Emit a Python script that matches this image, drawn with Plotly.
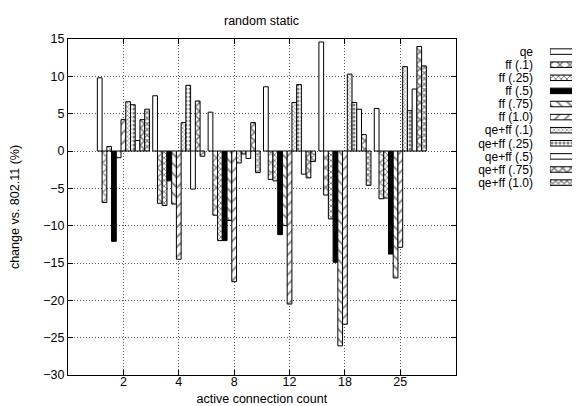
import plotly.graph_objects as go

categories = ["2", "4", "8", "12", "18", "25"]
series_names = ["qe", "ff (.1)", "ff (.25)", "ff (.5)", "ff (.75)", "ff (1.0)",
                "qe+ff (.1)", "qe+ff (.25)", "qe+ff (.5)", "qe+ff (.75)", "qe+ff (1.0)"]

qe = [9.8, 7.4, 5.2, 8.6, 14.6, 5.7]
ff_01 = [-6.9, -7.0, -8.6, -3.8, -5.9, -6.4]
ff_025 = [0.6, -7.3, -12.0, -4.0, -9.1, -6.3]
ff_05 = [-12.1, -4.0, -12.0, -11.2, -14.9, -13.8]
ff_075 = [-0.9, -7.1, -9.3, -10.0, -26.1, -17.0]
ff_10 = [4.2, -14.5, -17.5, -20.5, -23.2, -12.9]
qeff_01 = [6.6, 3.8, -1.6, 6.5, 10.3, 11.3]
qeff_025 = [6.2, 8.8, -0.4, 8.9, 6.5, 5.4]
qeff_05 = [1.4, -5.1, -1.0, -3.1, 5.6, 8.3]
qeff_075 = [4.2, 6.7, 3.8, -3.6, 2.2, 14.0]
qeff_10 = [5.6, -0.7, -2.9, -1.4, -4.6, 11.4]

yticks = [-30, -25, -20, -15, -10, -5, 0, 5, 10, 15]

series_values = [qe, ff_01, ff_025, ff_05, ff_075, ff_10,
                 qeff_01, qeff_025, qeff_05, qeff_075, qeff_10]

# fill styles (shape, size, solidity, solid colour)
styles = [
    ("", 8, 0.3, "white"),
    ("x", 7, 0.35, "white"),
    ("x", 4, 0.4, "white"),
    ("", 8, 0.3, "black"),
    ("\\", 7, 0.25, "white"),
    ("/", 7, 0.25, "white"),
    ("x", 3, 0.35, "white"),
    (".", 4, 0.45, "white"),
    ("", 8, 0.3, "white"),
    ("x", 6, 0.45, "white"),
    ("x", 4, 0.5, "white"),
]

FONT = "Liberation Sans, Arial, Helvetica, sans-serif"
FS = 12.5
xpos = list(range(1, len(categories) + 1))

fig = go.Figure()

for name, vals, (shape, size, sol, col) in zip(series_names, series_values, styles):
    marker = dict(color=col, line=dict(color="black", width=1))
    if shape:
        marker["pattern"] = dict(shape=shape, size=size, solidity=sol,
                                 fgcolor="black", bgcolor="white", fillmode="overlay")
    fig.add_trace(go.Bar(x=xpos, y=vals, name=name, marker=marker,
                         showlegend=False, xaxis="x", yaxis="y"))

# gnuplot-style key: label on the left, sample on the right
for i, (name, (shape, size, sol, col)) in enumerate(zip(series_names, styles)):
    marker = dict(color=col, line=dict(color="black", width=1))
    if shape:
        marker["pattern"] = dict(shape=shape, size=size, solidity=sol,
                                 fgcolor="black", bgcolor="white", fillmode="overlay")
    fig.add_trace(go.Bar(x=[1], y=[i], orientation="h", base=0, width=0.42, offset=-0.21,
                         marker=marker, showlegend=False, hoverinfo="skip",
                         xaxis="x2", yaxis="y2"))

W, H = 580, 406
ml, mr, mt, mb = 60, 2, 30.7, 39.3
pw = W - ml - mr
ph = H - mt - mb
main_right = (447.7 - ml) / pw

def ypaper(px):
    return (H - mb - px) / ph

GRID = dict(showgrid=True, gridcolor="#555", griddash="1px,2px", gridwidth=1)

fig.update_layout(
    width=W, height=H,
    margin=dict(l=ml, r=mr, t=mt, b=mb, autoexpand=False),
    paper_bgcolor="white", plot_bgcolor="white",
    font=dict(family=FONT, size=FS, color="black"),
    barmode="group", bargap=0.06, bargroupgap=0,
    title=dict(text="random static", x=(253.5 - ml) / pw, xref="paper", xanchor="center",
               y=1 - 13 / H, yanchor="middle", font=dict(size=FS)),
    xaxis=dict(domain=[0, main_right], range=[0, 7], tickvals=xpos, ticktext=categories,
               ticks="inside", ticklen=5, tickcolor="black", mirror="ticks",
               showline=True, linecolor="black", linewidth=1,
               zeroline=False, ticklabelstandoff=-5,
               title=dict(text="active connection count", standoff=6, font=dict(size=FS)),
               **GRID),
    yaxis=dict(range=[-30, 15], tickvals=yticks, ticks="inside", ticklen=5,
               tickcolor="black", mirror="ticks",
               showline=True, linecolor="black", linewidth=1,
               zeroline=False, ticklabelstandoff=0,
               title=dict(text="change vs. 802.11 (%)", standoff=28, font=dict(size=FS)),
               **GRID),
    xaxis2=dict(domain=[(542 - ml) / pw, (578 - ml) / pw], range=[0, 1], visible=False,
                anchor="y2", fixedrange=True),
    yaxis2=dict(domain=[ypaper(43.3 + 13.1 * 10.5), ypaper(43.3 - 13.1 * 0.5)],
                range=[10.5, -0.5], tickvals=list(range(len(series_names))),
                ticktext=series_names, ticks="", showgrid=False, showline=False,
                zeroline=False, anchor="x2", ticklabelstandoff=16,
                tickfont=dict(size=12)),
)

fig.write_html("out.html")
